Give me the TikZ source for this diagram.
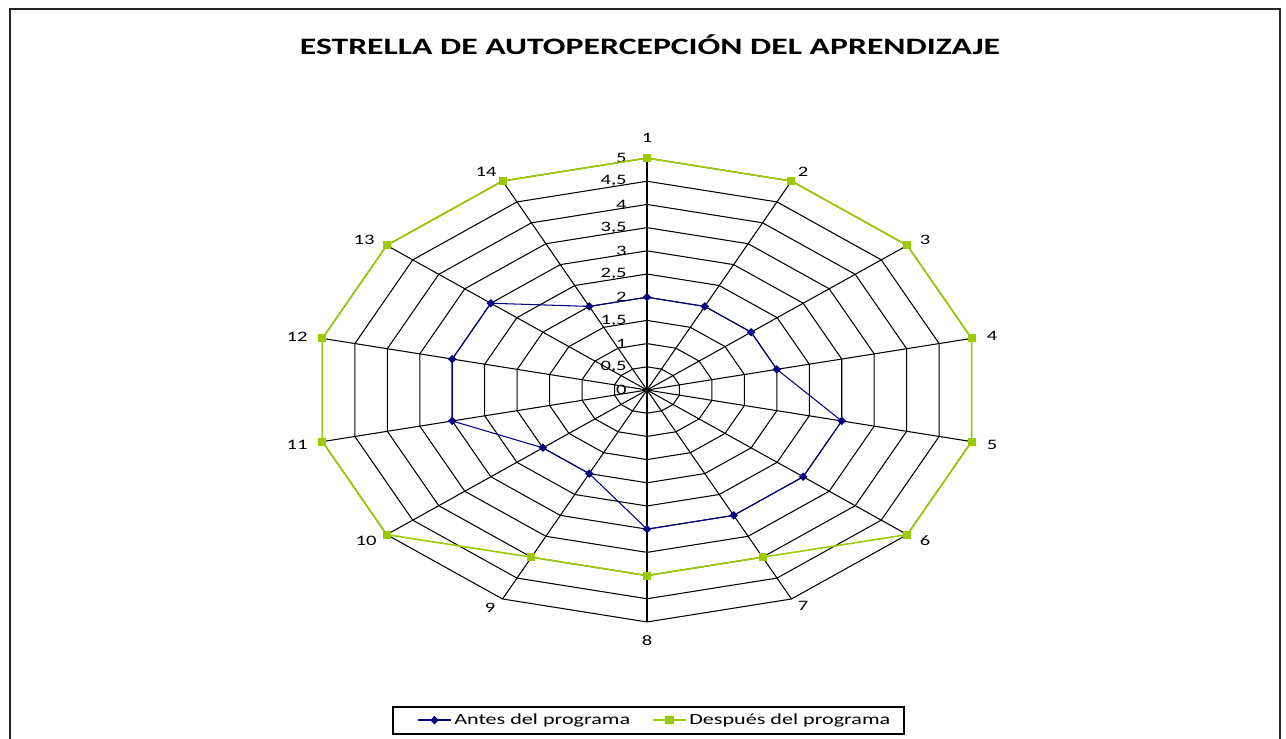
\documentclass[tikz,border=0pt]{standalone}
\usepackage{fontspec}
\setmainfont{Carlito}[FakeStretch=1.43]
\usetikzlibrary{shapes.geometric}
\definecolor{antes}{RGB}{0,0,128}
\definecolor{despues}{RGB}{153,204,0}
\tikzstyle{grid}=[black, line width=0.6pt]
\tikzstyle{axlabel}=[inner sep=0pt, font=\fontsize{8.2}{9}\selectfont]
\tikzstyle{ticklabel}=[inner sep=0pt, font=\fontsize{8.2}{9}\selectfont]
\tikzstyle{legtext}=[inner sep=0pt, font=\fontsize{8.8}{10}\selectfont]
\tikzstyle{antesmark}=[diamond, fill=antes, minimum size=5pt, inner sep=0pt]
\tikzstyle{despuesmark}=[rectangle, fill=despues, minimum size=4.6pt, inner sep=0pt]

\begin{document}
\begin{tikzpicture}[x=0.02cm, y=-0.02cm]
\useasboundingbox (0,0) rectangle (1286,738);
\draw[line width=1pt, black!85] (10,745) -- (10,9) -- (1280,9) -- (1280,745);
\node[font=\bfseries\fontsize{13.4}{15}\selectfont] (title) at (650,45) {ESTRELLA DE AUTOPERCEPCIÓN DEL APRENDIZAJE};

% axis numbers
\foreach \k/\x/\y in {1/647/138, 2/803/172, 3/925/240, 4/992/336, 5/992/445, 6/925/541, 7/803/606,
  8/647/641, 9/490/608, 10/366/541, 11/297/445, 12/297/337, 13/364/240, 14/486/172}
  \node[axlabel] (ax\k) at (\x,\y) {\k};

\begin{scope}[shift={(647,390)}, x=1.332cm, y=0.928cm]
% rings and spokes
\foreach \r in {0.5,1,...,5}
  \draw[grid] (90:\r) \foreach \k in {1,...,13} { -- ({90-\k*360/14}:\r) } -- cycle;
\foreach \k in {1,...,14} {
  \pgfmathsetmacro\a{90-(\k-1)*360/14}
  \draw[grid] (0,0) -- (\a:5);
}
\draw[line width=0.9pt] (0,0) -- (90:5);
% value labels
\foreach \v/\t [count=\i] in {0/0, 0.5/{0,5}, 1/1, 1.5/{1,5}, 2/2, 2.5/{2,5}, 3/3, 3.5/{3,5}, 4/4, 4.5/{4,5}, 5/5}
  \node[ticklabel, anchor=east] (tick\i) at (-0.3,\v) {\t};

% data points
\foreach \v [count=\k] in {2,2,2,2,3,3,3,3,2,2,3,3,3,2} {
  \pgfmathsetmacro\a{90-(\k-1)*360/14}
  \coordinate (b\k) at (\a:\v);
}
\foreach \v [count=\k] in {5,5,5,5,5,5,4,4,4,5,5,5,5,5} {
  \pgfmathsetmacro\a{90-(\k-1)*360/14}
  \coordinate (d\k) at (\a:\v);
}
\draw[despues, line width=0.9pt] (d1) \foreach \k in {2,...,14} { -- (d\k) } -- cycle;
\draw[antes, line width=0.6pt] (b1) \foreach \k in {2,...,14} { -- (b\k) } -- cycle;
\foreach \k in {1,...,14} {
  \node[despuesmark] (dm\k) at (d\k) {};
  \node[antesmark] (bm\k) at (b\k) {};
}
\end{scope}

% legend
\node[draw, line width=0.7pt, minimum width=10.22cm, minimum height=0.54cm, inner sep=0pt] (legend) at (648.5,720.5) {};
\coordinate (la1) at (418,720);
\coordinate (la2) at (451,720);
\draw[antes, line width=0.6pt] (la1) -- (la2);
\node[antesmark] (lam) at (434.5,720) {};
\node[legtext, anchor=west] (lat) at (454,720.5) {Antes del programa};
\coordinate (ld1) at (653,720);
\coordinate (ld2) at (686,720);
\draw[despues, line width=0.9pt] (ld1) -- (ld2);
\node[despuesmark] (ldm) at (669.5,720) {};
\node[legtext, anchor=west] (ldt) at (689,720.5) {Después del programa};
\end{tikzpicture}
\end{document}
